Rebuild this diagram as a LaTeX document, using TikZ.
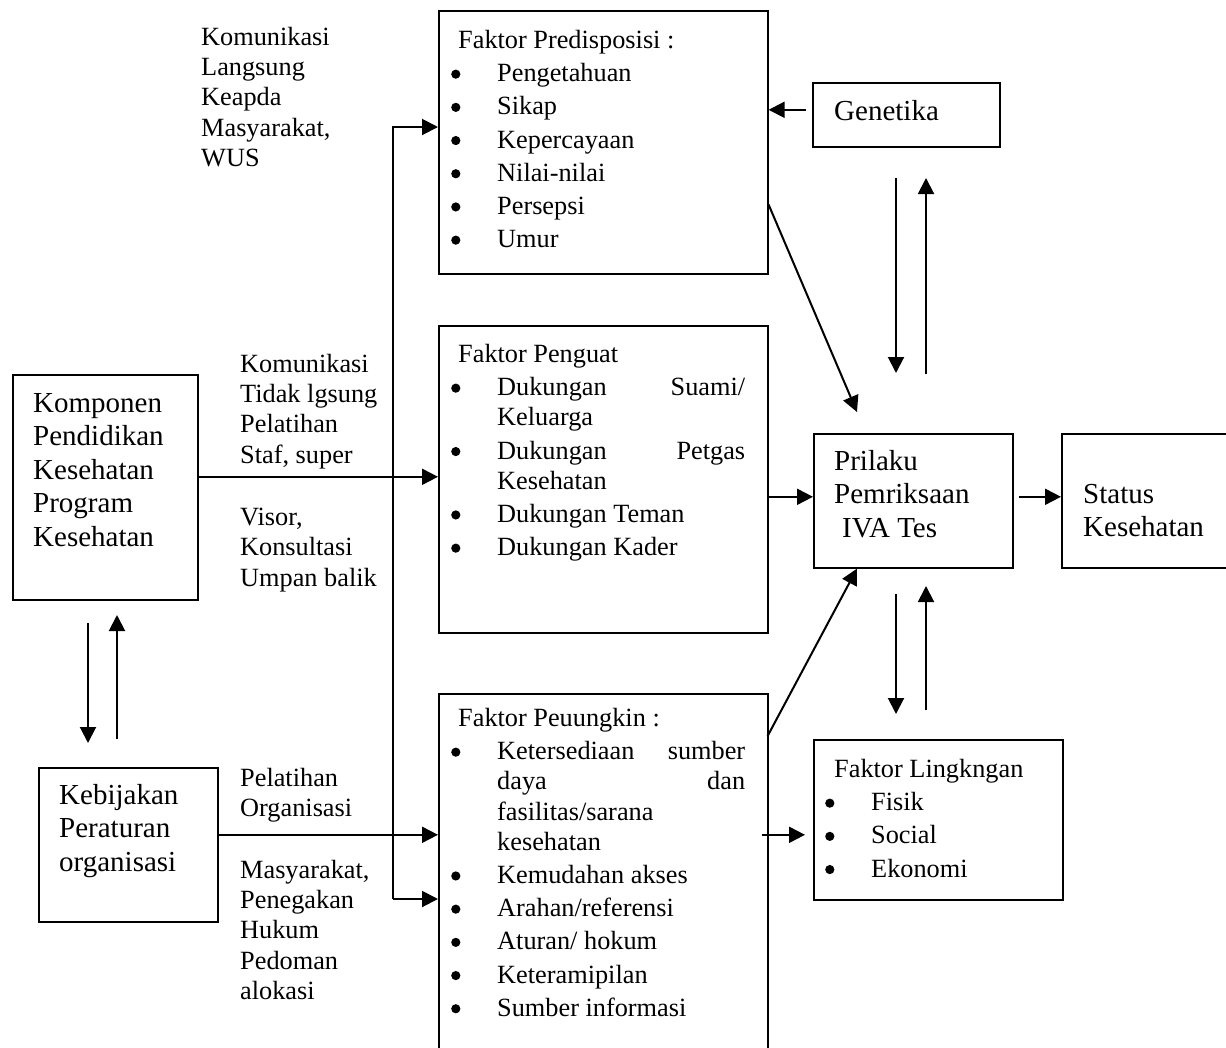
\documentclass[tikz,border=0pt]{standalone}
\usepackage{fontspec}
\setmainfont{Liberation Serif}
\usetikzlibrary{arrows.meta,calc}

\newcommand{\bul}{\makebox[46pt][l]{\tikz[baseline=0pt]\fill (4pt,7.5pt) circle[radius=4.6pt];}}
\newcommand{\cont}{\hspace*{46pt}}
\newcommand{\jline}[2]{\hbox to 248pt{#1\hfill#2}}

\tikzset{
  box/.style={draw, line width=1.6pt, inner sep=0pt, anchor=north west},
  txt/.style={align=left, inner sep=0pt, anchor=north west, font=\fontsize{26.3}{30.2}\selectfont},
  big/.style={txt, font=\fontsize{29}{33.5}\selectfont},
  arr/.style={line width=2pt, -{Triangle[length=16pt,width=16pt]}}
}

\begin{document}
\begin{tikzpicture}[x=1pt, y=-1pt]
\useasboundingbox (0,0) rectangle (1226,1047);
% boxes
\node[box, minimum width=185, minimum height=225] (kom) at (12,374) {};
\node[box, minimum width=179, minimum height=154] (keb) at (38,767) {};
\node[box, minimum width=329, minimum height=263] (pred) at (438,10) {};
\node[box, minimum width=329, minimum height=307] (pen) at (438,325) {};
\node[box, minimum width=329, minimum height=400] (peu) at (438,693) {};
\node[box, minimum width=187, minimum height=64] (gen) at (812,82) {};
\node[box, minimum width=199, minimum height=134] (pri) at (813,433) {};
\node[box, minimum width=190, minimum height=134] (sta) at (1061,433) {};
\node[box, minimum width=249, minimum height=160] (lin) at (813,739) {};

% box texts
\node[big] (komtxt) at (33,393) {Komponen\\Pendidikan\\Kesehatan\\Program\\Kesehatan};
\node[big] (kebtxt) at (59,784) {Kebijakan\\Peraturan\\organisasi};
\node[big] (gentxt) at (834,100) {Genetika};
\node[big] (pritxt) at (834,450) {Prilaku\\Pemriksaan\\\hspace*{8pt}IVA Tes};
\node[big] (statxt) at (1083,484) {Status\\Kesehatan};

\node[txt] (predtxt) at (451,30) {\hspace*{7pt}Faktor Predisposisi :\\[3pt]%
\bul Pengetahuan\\[3pt]%
\bul Sikap\\[3pt]%
\bul Kepercayaan\\[3pt]%
\bul Nilai-nilai\\[3pt]%
\bul Persepsi\\[3pt]%
\bul Umur};
\node[txt] (pentxt) at (451,344) {\hspace*{7pt}Faktor Penguat\\[3pt]%
\bul\jline{Dukungan}{Suami/}\\%
\cont Keluarga\\[3pt]%
\bul\jline{Dukungan}{Petgas}\\%
\cont Kesehatan\\[3pt]%
\bul Dukungan Teman\\[3pt]%
\bul Dukungan Kader};
\node[txt] (peutxt) at (451,708) {\hspace*{7pt}Faktor Peuungkin :\\[3pt]%
\bul\jline{Ketersediaan}{sumber}\\%
\cont\jline{daya}{dan}\\%
\cont fasilitas/sarana\\%
\cont kesehatan\\[3pt]%
\bul Kemudahan akses\\[3pt]%
\bul Arahan/referensi\\[3pt]%
\bul Aturan/ hokum\\[3pt]%
\bul Keteramipilan\\[3pt]%
\bul Sumber informasi};
\node[txt] (lintxt) at (825,759) {\hspace*{9pt}Faktor Lingkngan\\[3pt]%
\bul Fisik\\[3pt]%
\bul Social\\[3pt]%
\bul Ekonomi};

% labels on the lines
\node[txt] (lbla) at (201,27) {Komunikasi\\Langsung\\Keapda\\Masyarakat,\\WUS};
\node[txt] (lblb) at (240,354) {Komunikasi\\Tidak lgsung\\Pelatihan\\Staf, super};
\node[txt] (lblc) at (240,508) {Visor,\\Konsultasi\\Umpan balik};
\node[txt] (lbld) at (240,768) {Pelatihan\\Organisasi};
\node[txt] (lble) at (240,860) {Masyarakat,\\Penegakan\\Hukum\\Pedoman\\alokasi};

% connectors
\coordinate (busT) at (393,127);
\coordinate (busB) at (393,899);
\draw[arr] (busB) -- (busT) -- (busT -| pred.west);
\draw[arr] (busB) -- (busB -| peu.west);
\draw[arr] ($(kom.east)+(0,-10.5)$) -- ($(kom.east -| pen.west)+(0,-10.5)$);
\draw[arr] ($(keb.east)+(0,-10)$) -- ($(keb.east -| peu.west)+(0,-10)$);
\draw[arr] ($(gen.west)+(-6,-5)$) -- ($(gen.west -| pred.east)+(0,-5)$);
\draw[arr] ($(pred.south east)+(0,-70)$) -- ($(pri.north west)+(44,-21)$);
\draw[arr] ($(peu.north east)+(-1,43)$) -- ($(pri.south west)+(44,0)$);
\draw[arr] ($(pri.west -| pen.east)+(0,-4)$) -- ($(pri.west)+(0,-4)$);
\draw[arr] ($(pri.east)+(5,-4)$) -- ($(sta.west)+(0,-4)$);
\draw[arr] ($(lin.west -| peu.east)+(-7,15)$) -- ($(lin.west)+(-8,15)$);

% two-way pairs
\coordinate (ka1) at (88,623);  \coordinate (ka2) at (88,743);
\coordinate (kb1) at (117,739); \coordinate (kb2) at (117,615);
\coordinate (ga1) at (896,178); \coordinate (ga2) at (896,373);
\coordinate (gb1) at (926,374); \coordinate (gb2) at (926,178);
\coordinate (la1) at (896,594); \coordinate (la2) at (896,714);
\coordinate (lb1) at (926,710); \coordinate (lb2) at (926,586);
\path[arr] (ka1) edge (ka2) (kb1) edge (kb2)
  (ga1) edge (ga2) (gb1) edge (gb2)
  (la1) edge (la2) (lb1) edge (lb2);
\end{tikzpicture}
\end{document}
